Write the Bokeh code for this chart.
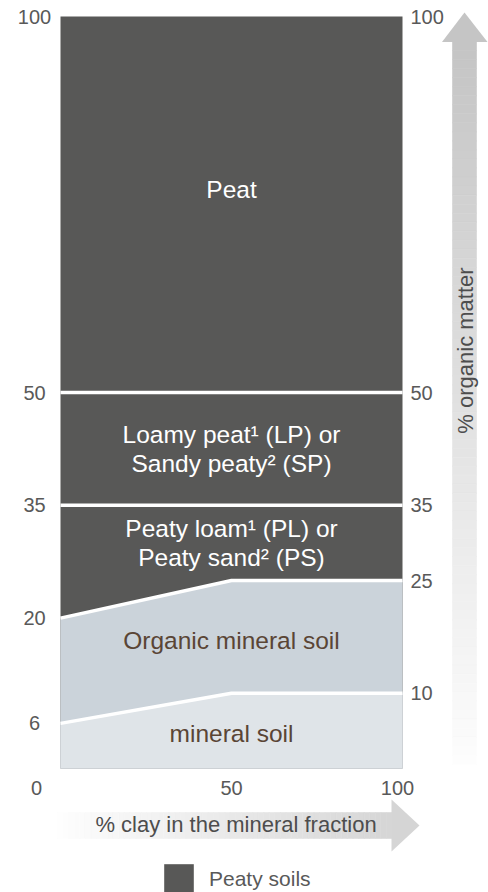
import numpy as np
from bokeh.plotting import figure
from bokeh.models import Range1d, Legend, LegendItem
from bokeh.core.properties import value
from bokeh.embed import file_html
from bokeh.resources import INLINE

# ---------------- data ----------------
clay_pts = [0, 50, 100]                 # % clay in the mineral fraction
peat_upper = [20, 25, 25]               # boundary peaty soils / organic mineral soil (% OM)
mineral_upper = [6, 10, 10]             # boundary organic mineral soil / mineral soil (% OM)
peat_class_lines = [35, 50]             # class limits inside peaty soils (% OM)
left_ticks = [100, 50, 35, 20, 6]
right_ticks = [100, 50, 35, 25, 10]
bottom_ticks = [0, 50, 100]
zone_labels = ["Peat",
               "Loamy peat\u00b9 (LP) or\nSandy peaty\u00b2 (SP)",
               "Peaty loam\u00b9 (PL) or\nPeaty sand\u00b2 (PS)",
               "Organic mineral soil",
               "mineral soil"]
zone_label_y = [77, 42.5, 30, 17, 4.7]
x_title = "% clay in the mineral fraction"
y_title = "% organic matter"
legend_label = "Peaty soils"

# ---------------- styles ----------------
DARK = "#585857"
ORG = "#cbd3da"
MIN = "#dfe4e8"
BROWN = "#5a4535"
TICK = "#595959"
TITLE = "#4d4d4d"
FONT_NAME = "Liberation Sans"
FONT = value(FONT_NAME)
zone_label_color = ["white", "white", "white", BROWN, BROWN]
bottom_label_xoff = [-24, 0, -5]

# ---------------- layout ----------------
W, H = 488, 892
X0, X1 = 60, 402      # canvas px of clay 0 and 100
Y100, Y0 = 16, 768    # canvas px of OM 100 and 0
sx = (X1 - X0) / 100.0
sy = (Y0 - Y100) / 100.0

def dx(px):
    return (px - X0) / sx

def dy(py):
    return (Y0 - py) / sy

p = figure(width=W, height=H, title=None,
           x_range=Range1d(-X0 / sx, 100 + (W - X1) / sx),
           y_range=Range1d(-(H - Y0) / sy, 100 + Y100 / sy),
           x_axis_location=None, y_axis_location=None,
           output_backend="svg", toolbar_location=None, min_border=0,
           outline_line_color=None, background_fill_color="white",
           border_fill_color="white")
p.grid.visible = False

# regions
dark = p.quad(left=[0], right=[100], bottom=[0], top=[100],
              fill_color=DARK, line_color=None)
p.patch([0] + clay_pts + [100], [0] + peat_upper + [0],
        fill_color=ORG, line_color=None)
p.patch([0] + clay_pts + [100], [0] + mineral_upper + [0],
        fill_color=MIN, line_color=None)

# white boundaries
p.multi_line(xs=[[0, 100] for _ in peat_class_lines],
             ys=[[v, v] for v in peat_class_lines],
             line_color="white", line_width=3.5)
p.line(clay_pts, peat_upper, line_color="white", line_width=3.5)
p.line(clay_pts, mineral_upper, line_color="white", line_width=3.5)

# zone labels
p.text(x=[50] * len(zone_labels), y=zone_label_y, text=zone_labels,
       text_align="center", text_baseline="middle",
       text_font=FONT, text_font_size="24.5px", text_line_height=1.1,
       text_color=zone_label_color)

# tick labels
p.text(x=[0] * len(left_ticks), y=left_ticks, text=[str(v) for v in left_ticks],
       x_offset=-26, text_align="center", text_baseline="middle",
       text_font=FONT, text_font_size="20px", text_color=TICK)
p.text(x=[100] * len(right_ticks), y=right_ticks, text=[str(v) for v in right_ticks],
       x_offset=8, text_align="left", text_baseline="middle",
       text_font=FONT, text_font_size="20px", text_color=TICK)
p.text(x=bottom_ticks, y=[0] * len(bottom_ticks), text=[str(v) for v in bottom_ticks],
       x_offset=bottom_label_xoff, y_offset=19, text_align="center",
       text_baseline="middle", text_font=FONT, text_font_size="20px",
       text_color=TICK)

# vertical arrow (organic matter), gradient drawn as thin strips
n = 80
edges = np.linspace(41, 764, n + 1)
shade = np.linspace(197, 253, n).astype(int)
vcols = ["#%02x%02x%02x" % (c, c, c) for c in shade]
p.quad(left=dx(452), right=dx(476), top=dy(edges[:-1]), bottom=dy(edges[1:]),
       fill_color=vcols, line_color=vcols, line_width=0.6)
p.patch([dx(441.5), dx(464), dx(487)], [dy(41.5), dy(12), dy(41.5)],
        fill_color="#c5c5c5", line_color=None)
p.text(x=[dx(465)], y=[dy(350)], text=[y_title], angle=np.pi / 2,
       text_align="center", text_baseline="middle", text_font=FONT,
       text_font_size="22px", text_color=TITLE)

# horizontal arrow (clay)
m = 60
hedges = np.linspace(57, 391.5, m + 1)
hshade = np.linspace(254, 214, m).astype(int)
hcols = ["#%02x%02x%02x" % (c, c, c) for c in hshade]
p.quad(left=dx(hedges[:-1]), right=dx(hedges[1:]), top=dy(812), bottom=dy(838),
       fill_color=hcols, line_color=hcols, line_width=0.6)
p.patch([dx(391), dx(419), dx(391)], [dy(799), dy(825), dy(851)],
        fill_color="#d5d5d5", line_color=None)
p.text(x=[dx(235.5)], y=[dy(824)], text=[x_title],
       text_align="center", text_baseline="middle", text_font=FONT,
       text_font_size="22px", text_color=TITLE)

# legend
legend = Legend(items=[LegendItem(label=legend_label, renderers=[dark])],
                location=(160, -5), orientation="horizontal",
                glyph_width=37, glyph_height=37, label_height=37,
                label_standoff=12, padding=0, margin=0, spacing=0,
                border_line_color=None, background_fill_alpha=0,
                label_text_font=FONT_NAME, label_text_font_size="21px",
                label_text_color=TICK, label_text_baseline="middle")
p.add_layout(legend)

open("out.html", "w").write(file_html(p, INLINE))
